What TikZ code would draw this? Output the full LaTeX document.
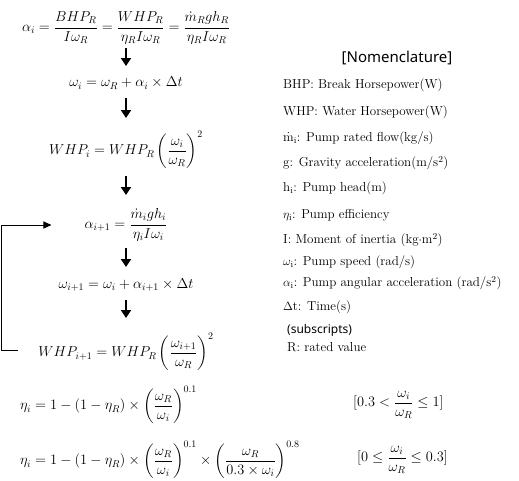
\documentclass[tikz,border=0pt]{standalone}
\usepackage{amsmath}
\usepackage{fontspec}
\setsansfont{Noto Sans}
\usetikzlibrary{arrows.meta}
\tikzset{
  eq/.style={inner sep=0pt, font=\fontsize{14}{17}\selectfont},
  nom/.style={anchor=west, inner sep=0pt, font=\fontsize{13}{15}\selectfont},
  head/.style={anchor=center, inner sep=0pt, font=\sffamily\bfseries\fontsize{15}{17}\selectfont},
  sub/.style={anchor=west, inner sep=0pt, font=\sffamily\fontsize{12}{14}\selectfont},
  flow/.style={line width=2pt, -{Triangle[width=10pt,length=8pt]}},
  loop/.style={line width=1pt, -{Triangle[width=7pt,length=8pt]}}
}
\begin{document}
\begin{tikzpicture}[x=1pt,y=-1pt]
\useasboundingbox (0,0) rectangle (519,480);
% flow equations
\node[eq] (e1) at (126,28) {$\alpha_i=\dfrac{BHP_R}{I\omega_R}=\dfrac{WHP_R}{\eta_R I\omega_R}=\dfrac{\dot m_R g h_R}{\eta_R I\omega_R}$};
\node[eq] (e2) at (126,83) {$\omega_i=\omega_R+\alpha_i\times\Delta t$};
\node[eq] (e3) at (126,150) {$WHP_i=WHP_R\left(\dfrac{\omega_i}{\omega_R}\right)^{2}$};
\node[eq] (e4) at (126,225) {$\alpha_{i+1}=\dfrac{\dot m_i g h_i}{\eta_i I\omega_i}$};
\node[eq] (e5) at (126,285) {$\omega_{i+1}=\omega_i+\alpha_{i+1}\times\Delta t$};
\node[eq] (e6) at (126,352) {$WHP_{i+1}=WHP_R\left(\dfrac{\omega_{i+1}}{\omega_R}\right)^{2}$};
% arrows
\draw[flow] ([yshift=-20pt]e1.center) -- ([yshift=-38pt]e1.center);
\draw[flow] ([yshift=-15pt]e2.center) -- ([yshift=-35pt]e2.center);
\draw[flow] ([yshift=-26pt]e3.center) -- ([yshift=-45pt]e3.center);
\draw[flow] ([yshift=-23pt]e4.center) -- ([yshift=-42pt]e4.center);
\draw[flow] ([yshift=-15pt]e5.center) -- ([yshift=-33pt]e5.center);
\coordinate (fbend) at (18,350);
\coordinate (fb) at (1,350);
\draw[loop, shorten >=33pt] (fbend) -- (fb) |- (e4.west);
% efficiency
\node[eq, anchor=west] (e7) at (20,405) {$\eta_i=1-(1-\eta_R)\times\left(\dfrac{\omega_R}{\omega_i}\right)^{0.1}$};
\node[eq, anchor=west] (c1) at (353,405) {$[0.3<\dfrac{\omega_i}{\omega_R}\le 1]$};
\node[eq, anchor=west] (e8) at (20,460) {$\eta_i=1-(1-\eta_R)\times\left(\dfrac{\omega_R}{\omega_i}\right)^{0.1}\times\left(\dfrac{\omega_R}{0.3\times\omega_i}\right)^{0.8}$};
\node[eq, anchor=west] (c2) at (357,460) {$[0\le\dfrac{\omega_i}{\omega_R}\le 0.3]$};
% nomenclature
\node[head] (nh) at (397,58) {[Nomenclature]};
\node[nom] (n1) at (283,85) {BHP: Break Horsepower(W)};
\node[nom] (n2) at (283,112) {WHP: Water Horsepower(W)};
\node[nom] (n3) at (283,138) {$\dot{\mathrm{m}}_{\mathrm{i}}$: Pump rated flow(kg/s)};
\node[nom] (n4) at (283,163) {g: Gravity acceleration(m/s\textsuperscript{2})};
\node[nom] (n5) at (283,188) {h$_{\mathrm{i}}$: Pump head(m)};
\node[nom] (n6) at (283,215) {$\eta_{\mathrm{i}}$: Pump efficiency};
\node[nom] (n7) at (283,240) {I: Moment of inertia (kg$\cdot$m\textsuperscript{2})};
\node[nom] (n8) at (283,262) {$\omega_{\mathrm{i}}$: Pump speed (rad/s)};
\node[nom] (n9) at (283,283) {$\alpha_{\mathrm{i}}$: Pump angular acceleration (rad/s\textsuperscript{2})};
\node[nom] (n10) at (283,307) {$\Delta$t: Time(s)};
\node[sub] (n11) at (287,330) {(subscripts)};
\node[nom] (n12) at (287,347) {R: rated value};
\end{tikzpicture}
\end{document}
